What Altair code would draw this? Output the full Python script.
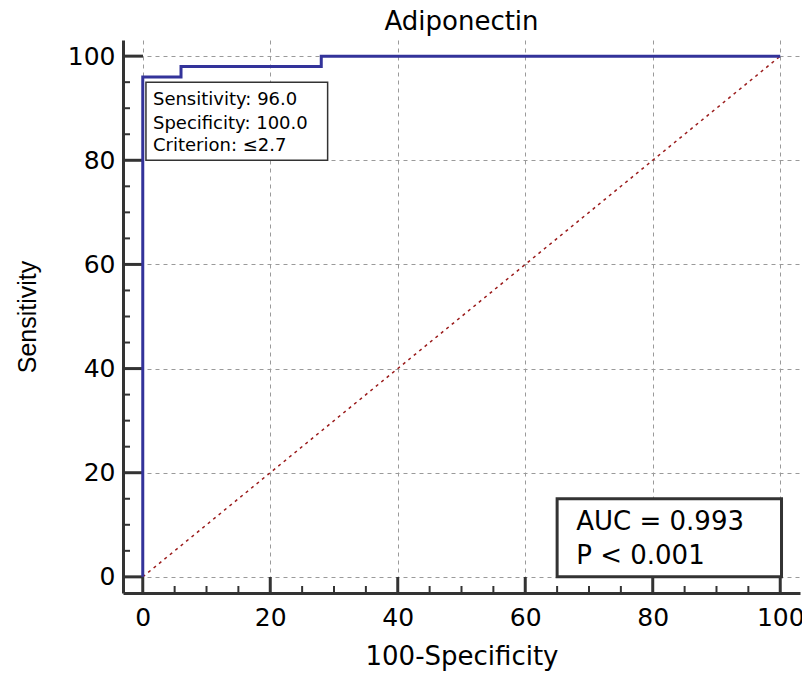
import altair as alt
import pandas as pd

# ---- data ----
roc_fpr = [0, 0, 6, 6, 28, 28, 100]
roc_tpr = [0, 96, 96, 98, 98, 100, 100]
diag_x = [0, 100]
diag_y = [0, 100]
major_ticks = [0, 20, 40, 60, 80, 100]
minor_ticks = [5, 10, 15, 25, 30, 35, 45, 50, 55, 65, 70, 75, 85, 90, 95]
info_lines = ["Sensitivity: 96.0", "Specificity: 100.0", "Criterion: ≤2.7"]
info_line_y = [91.5, 87.0, 82.7]
info_box = [0.5, 29.0, 80.0, 95.0]      # x, x2, y, y2 (data units)
auc_lines = ["AUC = 0.993", "P < 0.001"]
auc_line_y = [10.6, 4.0]
auc_box = [65.0, 100.2, 0.0, 15.0]

DOM = [-3.1, 103.1]
W, H = 677, 553
AXC = "#333333"

xscale = alt.Scale(domain=DOM, nice=False, zero=False)
yscale = alt.Scale(domain=DOM, nice=False, zero=False)

common_axis = dict(
    values=major_ticks, grid=True, gridDash=[4, 4], gridColor="#9a9a9a", gridWidth=1,
    ticks=False, domain=True, domainColor=AXC, domainWidth=3,
    labelFont="DejaVu Sans", labelFontSize=25, labelColor="black",
    titleFontWeight="normal", titleColor="black", format="d",
)
axis_x = alt.Axis(title="100-Specificity", titleFont="DejaVu Sans", titleFontSize=26,
                  labelPadding=12, titlePadding=13, **common_axis)
axis_y = alt.Axis(title="Sensitivity", titleFont="Liberation Sans", titleFontSize=25,
                  labelPadding=8, titlePadding=27, **common_axis)


def X(f):
    return alt.X(f, type="quantitative", scale=xscale, axis=axis_x)


def Y(f):
    return alt.Y(f, type="quantitative", scale=yscale, axis=axis_y)


roc_df = pd.DataFrame({"x": roc_fpr, "y": roc_tpr, "i": list(range(len(roc_fpr)))})
diag_df = pd.DataFrame({"x": diag_x, "y": diag_y, "i": [0, 1]})
maj_df = pd.DataFrame({"v": major_ticks})
min_df = pd.DataFrame({"v": minor_ticks})
info_df = pd.DataFrame({"t": info_lines, "y": info_line_y, "x": [info_box[0] + 1.1] * 3})
auc_df = pd.DataFrame({"t": auc_lines, "y": auc_line_y, "x": [auc_box[0] + 3.0] * 2})
ibox_df = pd.DataFrame({"x": [info_box[0]], "x2": [info_box[1]], "y": [info_box[2]], "y2": [info_box[3]]})
abox_df = pd.DataFrame({"x": [auc_box[0]], "x2": [auc_box[1]], "y": [auc_box[2]], "y2": [auc_box[3]]})

diag = alt.Chart(diag_df).mark_line(color="#9b1c1c", strokeWidth=1.5, strokeDash=[3, 4]).encode(
    x=X("x"), y=Y("y"), order="i:Q")

xmaj = alt.Chart(maj_df).mark_rule(color=AXC, strokeWidth=3).encode(
    x=X("v"), y=alt.value(H), y2=alt.value(H - 16))
xmin = alt.Chart(min_df).mark_rule(color=AXC, strokeWidth=2).encode(
    x=X("v"), y=alt.value(H), y2=alt.value(H - 7))
ymaj = alt.Chart(maj_df).mark_rule(color=AXC, strokeWidth=3).encode(
    y=Y("v"), x=alt.value(0), x2=alt.value(20))
ymin = alt.Chart(min_df).mark_rule(color=AXC, strokeWidth=2).encode(
    y=Y("v"), x=alt.value(0), x2=alt.value(7))

roc = alt.Chart(roc_df).mark_line(color="#33339a", strokeWidth=3).encode(
    x=X("x"), y=Y("y"), order="i:Q")

ibox = alt.Chart(ibox_df).mark_rect(fill="white", stroke=AXC, strokeWidth=1.5).encode(
    x=X("x"), x2="x2", y=Y("y"), y2="y2")
itext = alt.Chart(info_df).mark_text(align="left", baseline="middle", font="DejaVu Sans",
                                     fontSize=18, color="black").encode(
    x=X("x"), y=Y("y"), text="t")
abox = alt.Chart(abox_df).mark_rect(fill="white", stroke=AXC, strokeWidth=3).encode(
    x=X("x"), x2="x2", y=Y("y"), y2="y2")
atext = alt.Chart(auc_df).mark_text(align="left", baseline="middle", font="DejaVu Sans",
                                    fontSize=26, color="black").encode(
    x=X("x"), y=Y("y"), text="t")

chart = alt.layer(diag, xmaj, xmin, ymaj, ymin, roc, ibox, itext, abox, atext).properties(
    width=W, height=H,
    title=alt.TitleParams("Adiponectin", font="DejaVu Sans", fontSize=26, fontWeight="normal",
                          color="black", anchor="middle", offset=5),
    autosize=alt.AutoSizeParams(type="none"),
    padding={"left": 115, "top": 32, "right": 2, "bottom": 78},
    background="white",
).configure_view(stroke=None)

chart.save("out.html", embed_options={"renderer": "svg", "actions": False})
